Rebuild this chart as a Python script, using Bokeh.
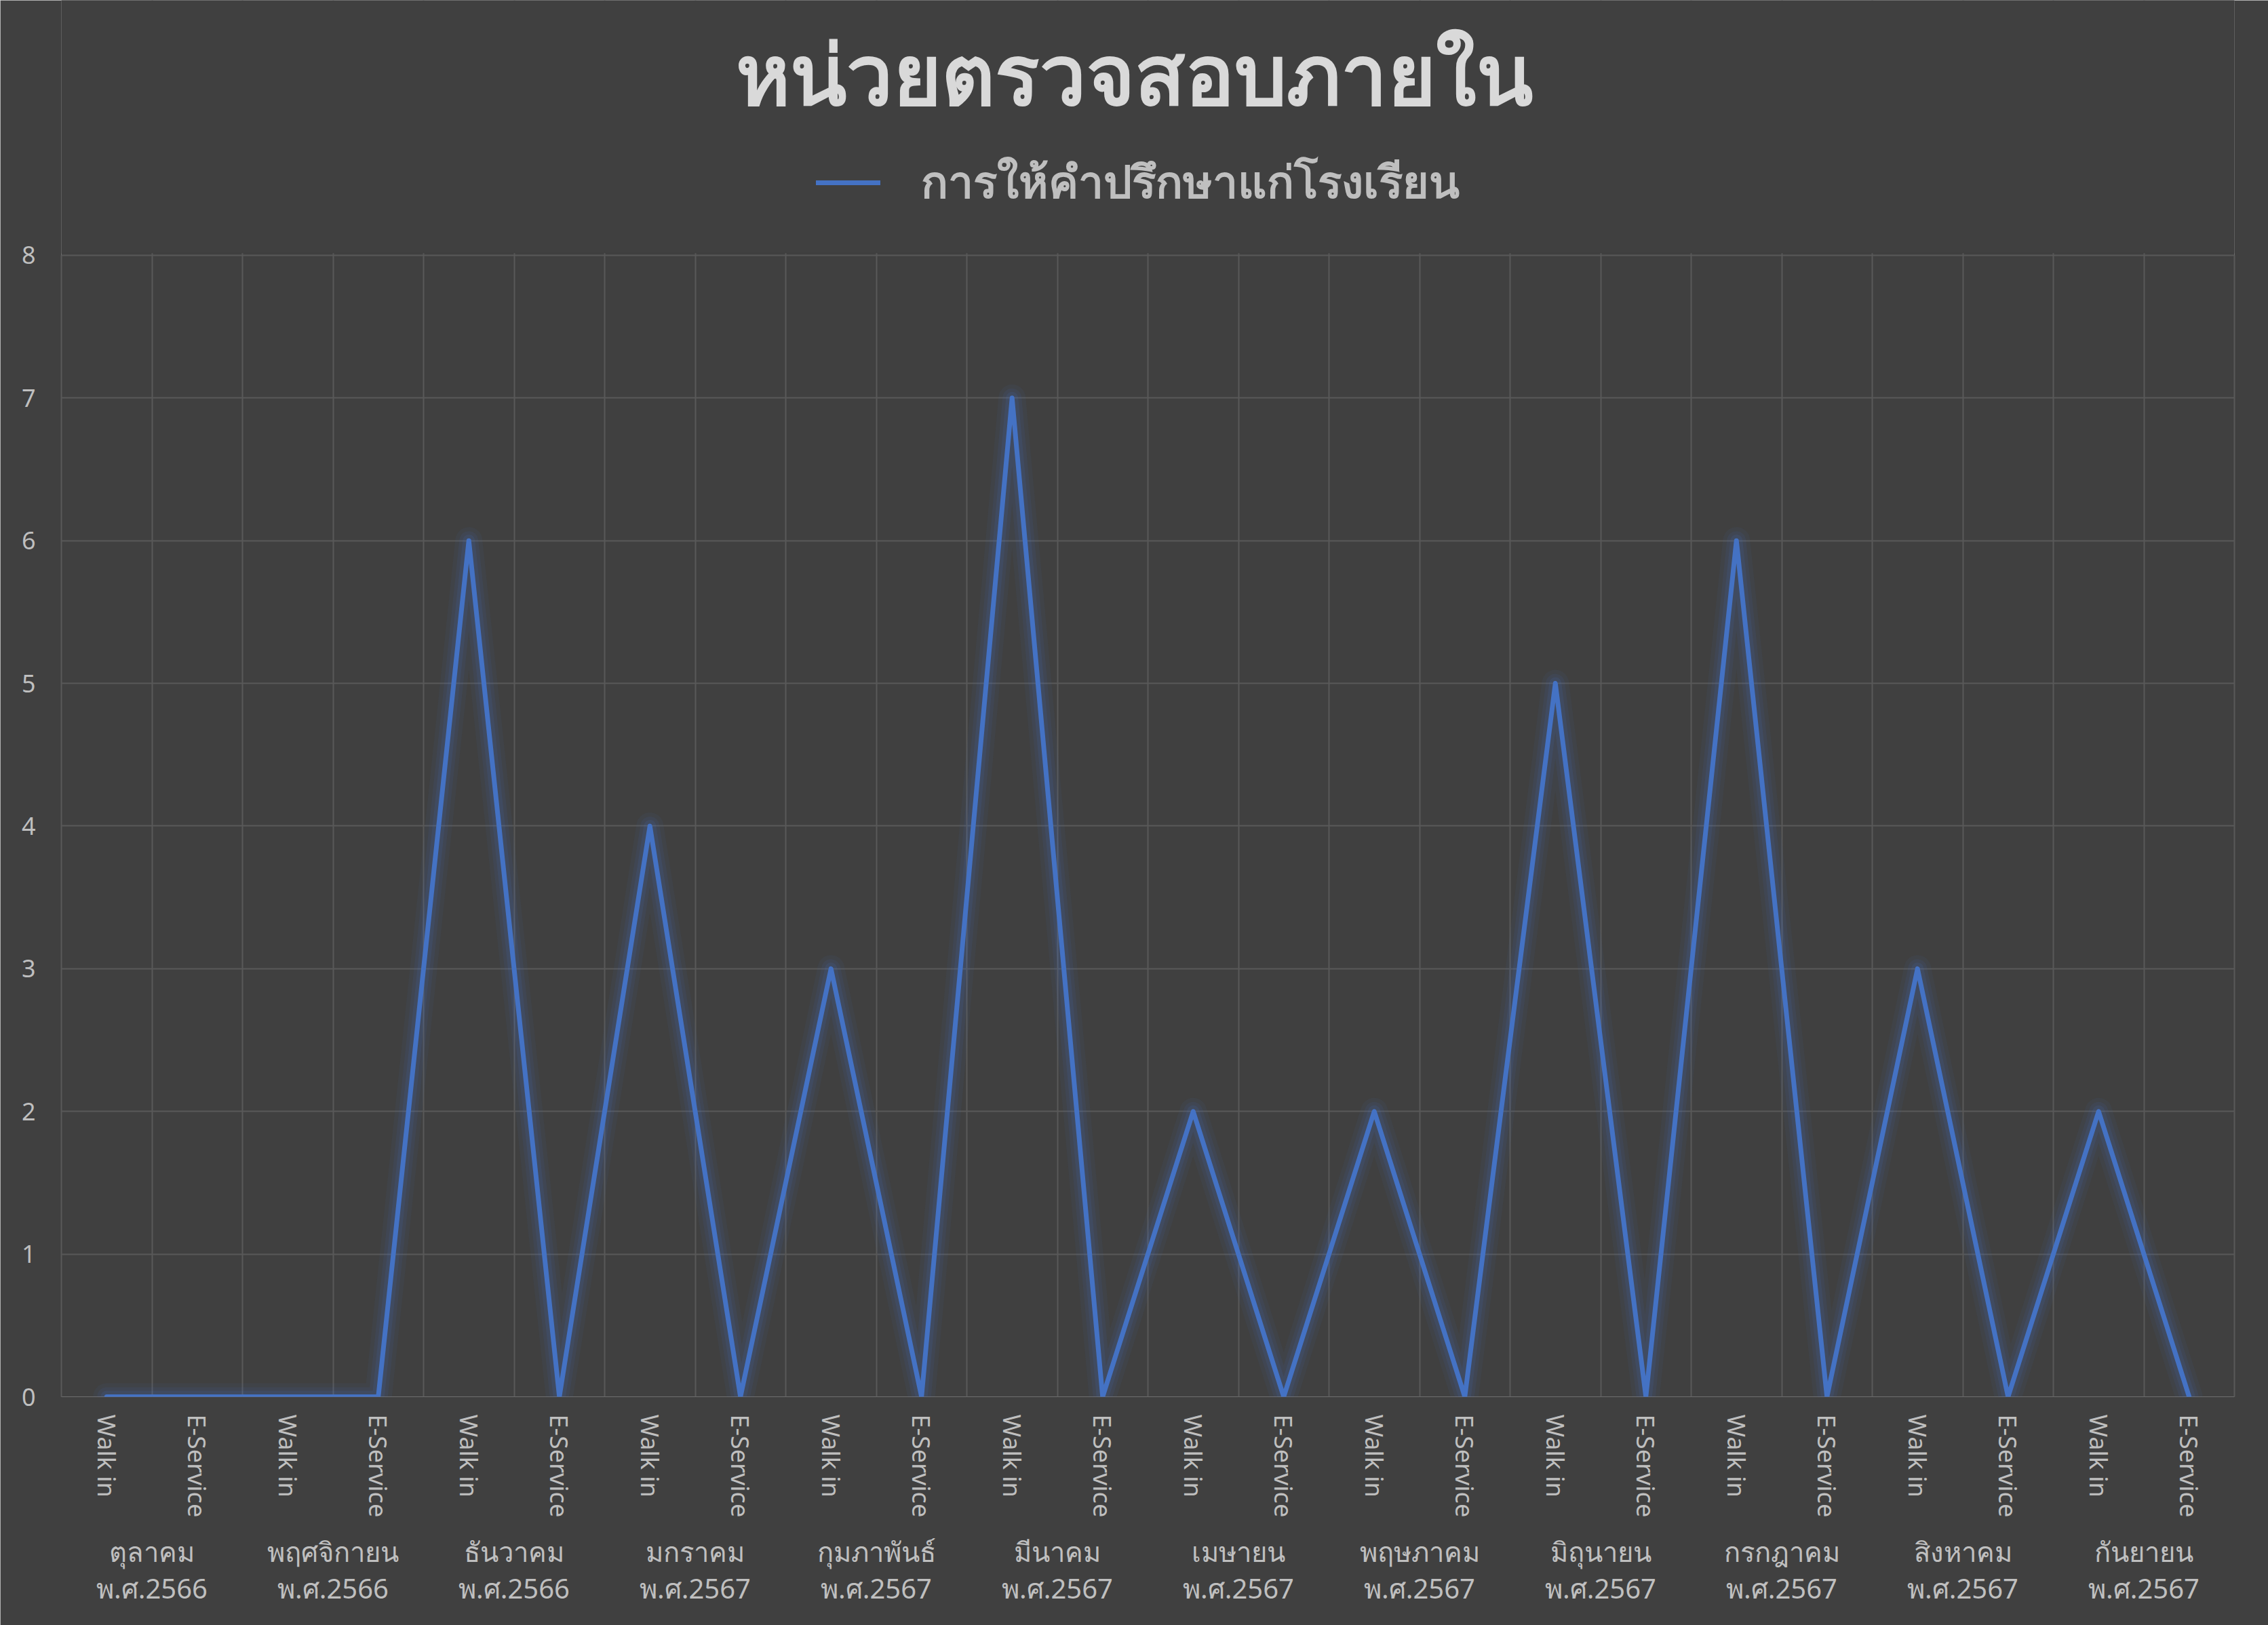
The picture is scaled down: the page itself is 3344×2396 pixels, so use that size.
from bokeh.plotting import figure
from bokeh.models import (FactorRange, FixedTicker, Legend, LegendItem, ColumnDataSource,
                          Range1d, BoxAnnotation, Label, LinearAxis)
from bokeh.embed import file_html
from bokeh.resources import INLINE

title_text = "หน่วยตรวจสอบภายใน"
series_name = "การให้คำปรึกษาแก่โรงเรียน"
months = ["ตุลาคม", "พฤศจิกายน", "ธันวาคม", "มกราคม", "กุมภาพันธ์", "มีนาคม",
          "เมษายน", "พฤษภาคม", "มิถุนายน", "กรกฎาคม", "สิงหาคม", "กันยายน"]
years = ["พ.ศ.2566", "พ.ศ.2566", "พ.ศ.2566", "พ.ศ.2567", "พ.ศ.2567", "พ.ศ.2567",
         "พ.ศ.2567", "พ.ศ.2567", "พ.ศ.2567", "พ.ศ.2567", "พ.ศ.2567", "พ.ศ.2567"]
channels = ["Walk in", "E-Service"]
walk_in = [0, 0, 6, 4, 3, 7, 2, 2, 5, 6, 3, 2]
e_service = [0, 0, 0, 0, 0, 0, 0, 0, 0, 0, 0, 0]
y_ticks = [0, 1, 2, 3, 4, 5, 6, 7, 8]
y_max = 8

groups = [f"{m}\n{y}" for m, y in zip(months, years)]
factors = [(g, c) for g in groups for c in channels]
values = []
for w, e in zip(walk_in, e_service):
    values += [w, e]
src = ColumnDataSource(dict(x=factors, y=values))

BG = "#404040"
GRID = "#595959"
LINE = "#4472C4"
FONT = "Noto Sans"

# frame extends to the top of the canvas; the header area above y_max is masked
HEADER_TOP = 9.787

x_range = FactorRange(*factors, group_padding=0, subgroup_padding=0, factor_padding=0, range_padding=0)
p = figure(width=3344, height=2396, x_range=x_range, y_range=Range1d(0, HEADER_TOP),
           output_backend="svg", toolbar_location=None,
           min_border_left=90, min_border_right=50, min_border_top=0, min_border_bottom=337)
p.background_fill_color = BG
p.border_fill_color = BG
p.outline_line_color = None
p.styles = {"outline": "3px solid #d9d9d9", "outline-offset": "-3px"}

# glow
for w, a in [(40, 0.06), (28, 0.09), (18, 0.13)]:
    p.line(x="x", y="y", source=src, line_width=w, line_color=LINE, line_alpha=a,
           line_join="round", line_cap="round")
main = p.line(x="x", y="y", source=src, line_width=7, line_color=LINE,
              line_join="round", line_cap="round")

# inner category boundaries (outer ones are drawn by the axis lines)
p.xgrid.ticker = FixedTicker(ticks=list(range(1, len(factors))))
p.xgrid.grid_line_color = GRID
p.xgrid.grid_line_width = 2
p.ygrid.grid_line_color = GRID
p.ygrid.grid_line_width = 2

# mask header region (above the top gridline)
p.add_layout(BoxAnnotation(bottom=y_max + 0.016, fill_color=BG, fill_alpha=1.0,
                           line_color=BG, line_width=3))

p.yaxis.ticker = FixedTicker(ticks=y_ticks)
p.yaxis.bounds = (0, y_max)
p.yaxis.axis_line_color = GRID
p.yaxis.axis_line_width = 2
p.yaxis.major_tick_line_color = None
p.yaxis.minor_tick_line_color = None
p.yaxis.major_label_text_font = FONT
p.yaxis.major_label_text_font_size = "36px"
p.yaxis.major_label_text_color = "#bfbfbf"
p.yaxis.major_label_standoff = 32

right_edge = LinearAxis(ticker=FixedTicker(ticks=[]), bounds=(0, y_max),
                        axis_line_color=GRID, axis_line_width=2,
                        major_tick_line_color=None, minor_tick_line_color=None,
                        major_label_text_alpha=0)
p.add_layout(right_edge, "right")

xa = p.xaxis[0]
xa.axis_line_color = None
xa.major_tick_line_color = None
xa.minor_tick_line_color = None
xa.separator_line_color = None
xa.major_label_orientation = "vertical"
xa.major_label_text_font = FONT
xa.major_label_text_font_size = "36px"
xa.major_label_text_color = "#bfbfbf"
xa.major_label_standoff = 20
xa.group_label_orientation = "horizontal"
xa.group_text_font = FONT
xa.group_text_font_size = "40px"
xa.group_text_color = "#bfbfbf"
xa.group_text_font_style = "normal"
xa.group_text_line_height = 0.97

title = Label(text=title_text, x=1582, y=1953, x_units="screen", y_units="screen",
              text_align="center", text_baseline="alphabetic",
              text_font=FONT, text_font_size="122px", text_font_style="bold",
              text_color="#d9d9d9")
p.add_layout(title)

legend = Legend(items=[LegendItem(label=series_name, renderers=[main])],
                orientation="horizontal", location=(1113, 1738))
legend.label_text_font = FONT
legend.label_text_font_size = "66px"
legend.label_text_font_style = "bold"
legend.label_text_color = "#bfbfbf"
legend.glyph_width = 95
legend.label_standoff = 60
legend.background_fill_alpha = 0
legend.border_line_alpha = 0
legend.margin = 0
legend.padding = 0
p.add_layout(legend)

open("out.html", "w").write(file_html(p, INLINE))
